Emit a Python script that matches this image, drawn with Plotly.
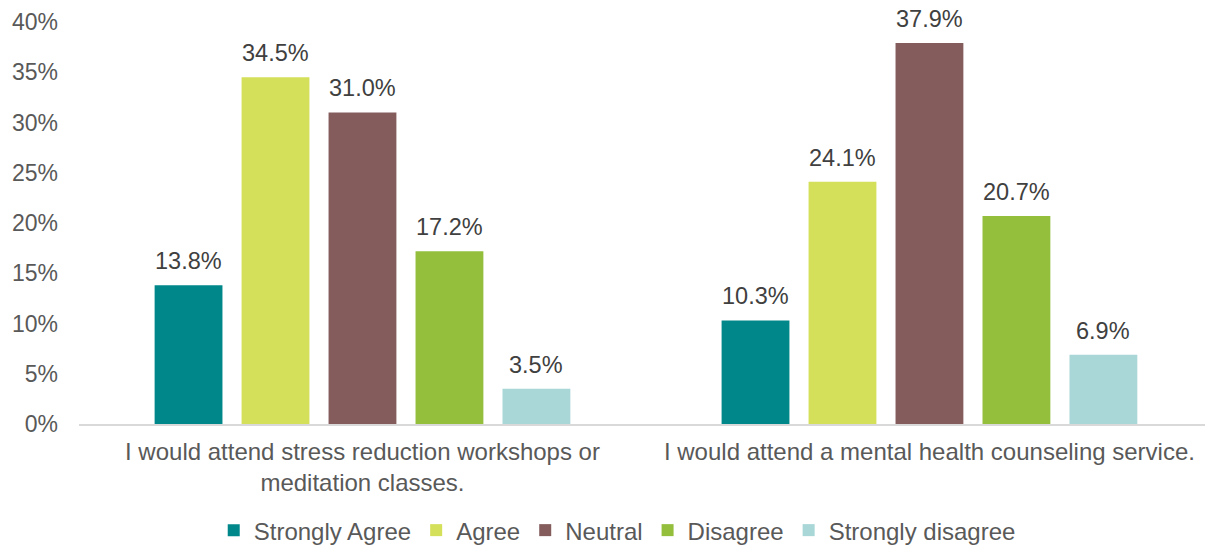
import plotly.graph_objects as go

statements = [
    "I would attend stress reduction workshops or<br>meditation classes.",
    "I would attend a mental health counseling service.",
]
responses = ["Strongly Agree", "Agree", "Neutral", "Disagree", "Strongly disagree"]
strongly_agree = [13.8, 10.3]
agree = [34.5, 24.1]
neutral = [31.0, 37.9]
disagree = [17.2, 20.7]
strongly_disagree = [3.5, 6.9]
y_ticks = [0, 5, 10, 15, 20, 25, 30, 35, 40]

series = [strongly_agree, agree, neutral, disagree, strongly_disagree]
colors = ["#00878A", "#D4DF5A", "#845C5C", "#93BF3D", "#A9D6D7"]

FONT = "Liberation Sans, Arial"
BARGAP = 0.233
slot = (1 - BARGAP) / len(series)

fig = go.Figure()
for i, (name, vals, col) in enumerate(zip(responses, series, colors)):
    fig.add_trace(go.Bar(
        x=[0, 1],
        y=vals,
        name=name,
        marker=dict(color=col, line=dict(width=0)),
    ))
    # value labels above each bar
    for cat, v in enumerate(vals):
        fig.add_annotation(
            x=cat + (i - (len(series) - 1) / 2) * slot,
            y=v,
            xref="x", yref="y",
            text=f"{v:.1f}%",
            showarrow=False,
            yanchor="bottom",
            yshift=9,
            font=dict(family=FONT, size=23.5, color="#404040"),
        )

fig.update_layout(
    width=1205,
    height=548,
    barmode="group",
    bargap=BARGAP,
    bargroupgap=0.22,
    plot_bgcolor="white",
    paper_bgcolor="white",
    margin=dict(l=79, r=0, t=22, b=124, autoexpand=False),
    font=dict(family=FONT, size=23, color="#595959"),
    legend=dict(
        orientation="h",
        x=0.478, xanchor="center",
        y=-0.265, yanchor="middle",
        font=dict(size=24, color="#595959"),
        itemwidth=30,
        traceorder="normal",
    ),
    xaxis=dict(
        range=[-0.5, 1.486],
        tickvals=[0, 1],
        ticktext=statements,
        showline=True,
        linecolor="#D9D9D9",
        linewidth=2,
        ticks="",
        showgrid=False,
        automargin=False,
        ticklabelstandoff=5,
        tickfont=dict(size=24, color="#595959"),
    ),
    yaxis=dict(
        range=[0, 40],
        tickvals=y_ticks,
        ticktext=[f"{t}%" for t in y_ticks],
        showgrid=False,
        zeroline=False,
        showline=False,
        ticks="",
        automargin=False,
        ticklabelstandoff=20,
        tickfont=dict(size=23, color="#595959"),
    ),
)

fig.write_html("out.html")
